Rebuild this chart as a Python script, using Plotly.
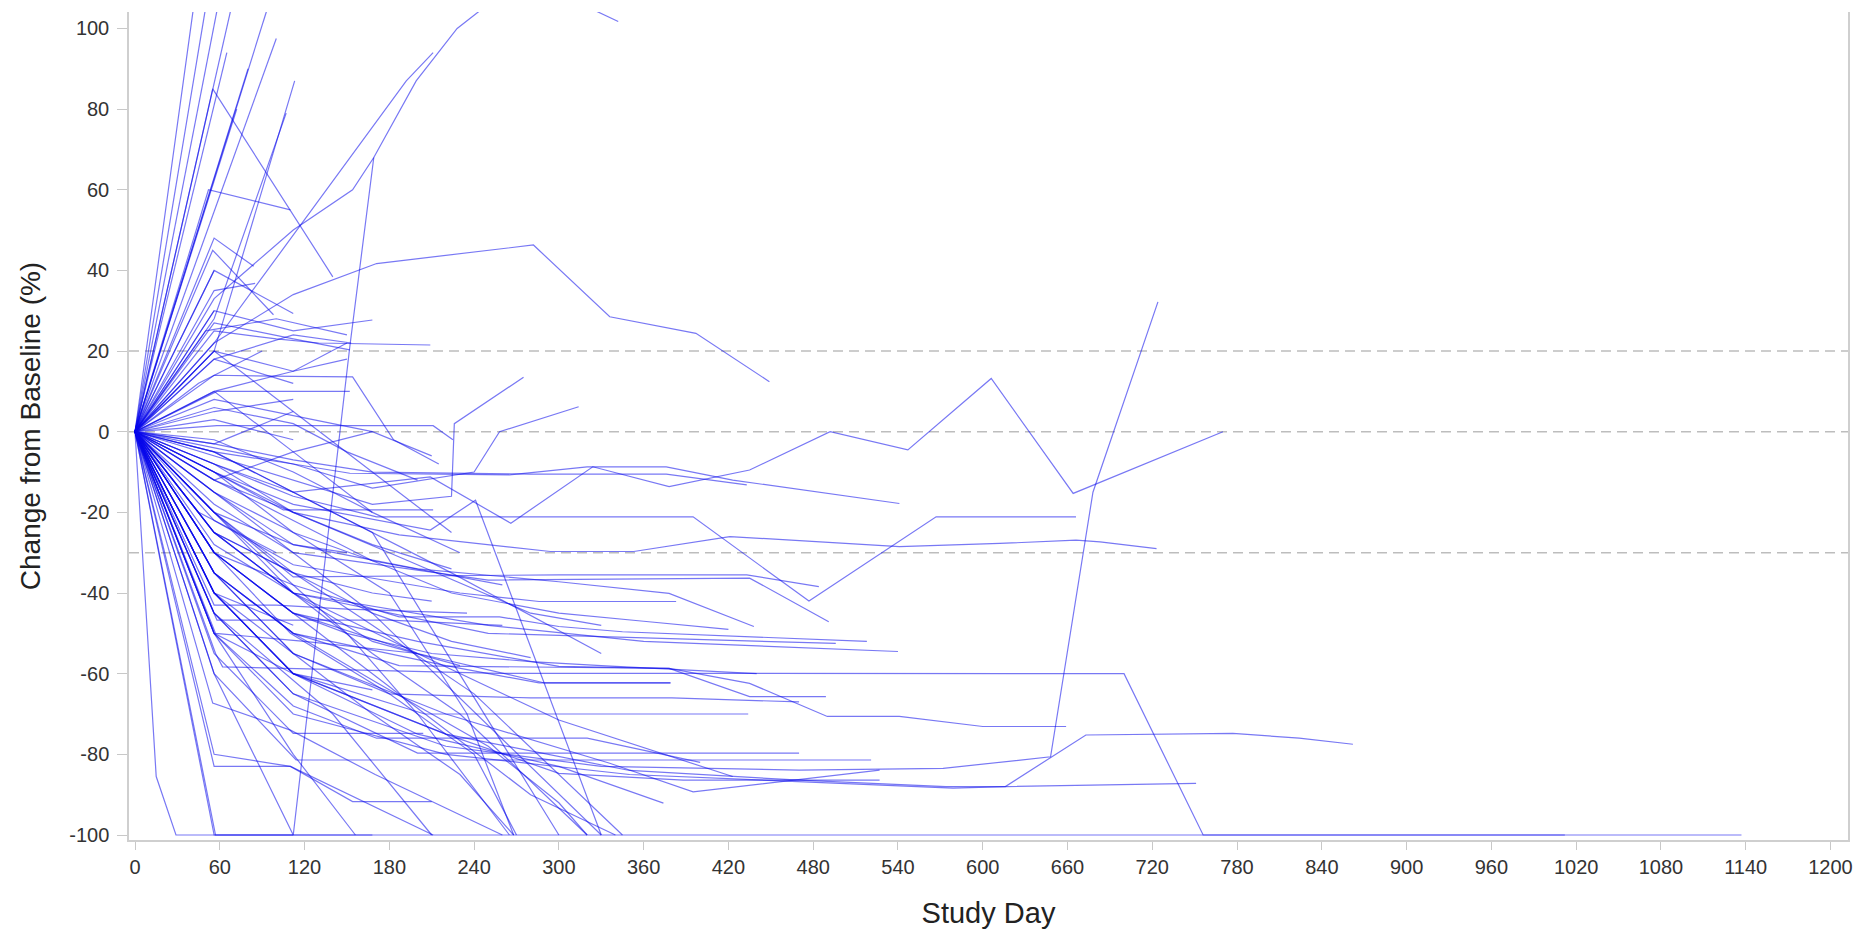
import plotly.graph_objects as go

# ---- data: one list per subject (study day, % change from baseline) ----
subject_days = [
    [0, 50, 280, 342],
    [0, 58],
    [0, 60],
    [0, 70],
    [0, 100],
    [0, 100],
    [0, 80],
    [0, 65],
    [0, 56, 113],
    [0, 56, 107],
    [0, 55, 140],
    [0, 56, 112, 171, 282, 336, 397, 449],
    [0, 56, 112, 154, 169, 199, 228, 250],
    [0, 56, 192, 211],
    [0, 56, 112, 152, 169],
    [0, 72],
    [0, 52, 110],
    [0, 56, 84],
    [0, 56, 85],
    [0, 55, 98],
    [0, 56, 112],
    [0, 56, 112, 168],
    [0, 56, 100, 130, 209],
    [0, 56, 112, 152],
    [0, 56, 112, 153],
    [0, 58, 152],
    [0, 56, 112, 154, 183, 215],
    [0, 58, 211, 225],
    [0, 56, 112, 168, 224, 226, 275],
    [0, 56, 112, 168, 240, 258, 314],
    [0, 56, 112, 152, 265, 320, 376, 423, 541],
    [0, 56, 112, 168, 280, 376, 433],
    [0, 56, 112, 209, 266, 324, 378, 435, 492, 547, 606, 664, 770],
    [0, 56, 105, 211],
    [0, 56, 112, 171, 395, 477, 567, 666],
    [0, 56, 112, 187, 294, 353, 421, 541, 612, 666, 683, 723],
    [0, 56, 112, 209, 241, 330],
    [0, 56, 112, 300, 433, 484],
    [0, 56, 112, 250, 435, 491],
    [0, 56, 112, 200, 300, 378, 438],
    [0, 56, 112, 230, 286, 383],
    [0, 56, 112, 187, 258, 300, 345, 518],
    [0, 56, 112, 250, 496],
    [0, 56, 112, 250, 360, 470, 540],
    [0, 57, 62, 258, 700, 756, 1012],
    [0, 56, 112, 200, 290, 379],
    [0, 56, 112, 220, 286, 379],
    [0, 56, 112, 200, 300, 378, 435, 489],
    [0, 56, 112, 187, 378, 435, 490, 541, 600, 659],
    [0, 56, 112, 205, 434],
    [0, 56, 112, 200, 300, 423],
    [0, 56, 112, 200, 470],
    [0, 56, 114, 521],
    [0, 56, 110, 154, 210],
    [0, 56, 110, 211],
    [0, 56, 112, 200, 300, 374],
    [0, 56, 112, 220, 336, 395, 527],
    [0, 56, 112, 220, 300, 388, 527],
    [0, 56, 112, 220, 330, 470, 572, 648, 678, 724],
    [0, 56, 112, 220, 350, 470, 574, 616, 673, 777, 824, 862],
    [0, 56, 112, 220, 350, 470, 579, 616, 751],
    [0, 15, 29, 1137],
    [0, 56, 112],
    [0, 57, 168],
    [0, 55, 110, 170, 260],
    [0, 56, 112, 204],
    [0, 56, 112, 171, 320, 400],
    [0, 56, 112, 168, 224, 280, 340],
    [0, 56, 112, 168, 230, 320],
    [0, 56, 112, 170, 250, 300, 320],
    [0, 56, 112, 168, 240, 300, 345],
    [0, 56, 112, 168, 230, 268],
    [0, 56, 140, 210],
    [0, 56, 112, 156],
    [0, 56, 112, 168, 330],
    [0, 56, 168, 300],
    [0, 56, 112, 150, 200, 265],
    [0, 56, 110, 180, 240, 270],
    [0, 56, 112, 180, 235, 268],
    [0, 56, 112, 150],
    [0, 56, 112, 168, 210],
    [0, 56, 112, 168, 260],
    [0, 56, 112, 180, 280, 330],
    [0, 56, 100, 150, 235],
    [0, 58, 180, 260],
    [0, 57, 120, 200],
    [0, 56, 112, 168, 224, 330],
    [0, 56, 112, 168],
    [0, 56, 112, 168, 224],
    [0, 56, 112, 168, 230],
    [0, 56, 112],
    [0, 56, 112, 168],
    [0, 45, 100],
    [0, 56, 112, 168, 224, 280],
    [0, 56, 112, 168, 224, 300, 360, 420],
    [0, 56, 112, 150, 210, 280, 330, 440],
    [0, 56, 112, 180, 280, 380, 470],
    [0, 56, 112],
    [0, 56, 112, 150],
    [0, 56, 112],
    [0, 50, 100, 150],
    [0, 56, 112],
    [0, 56, 112, 168],
    [0, 56, 112, 150, 200],
    [0, 45, 90],
    [0, 56],
    [0, 56],
    [0, 56, 112, 150],
    [0, 56, 112],
    [0, 56, 112, 168, 210],
    [0, 56, 112, 168, 224],
    [0, 56, 112, 168, 230],
]

subject_change = [
    [0, 127, 112, 101.7],
    [0, 122],
    [0, 108],
    [0, 108],
    [0, 112],
    [0, 97.5],
    [0, 90],
    [0, 94],
    [0, 20, 87],
    [0, 28, 79],
    [0, 85, 38.4],
    [0, 22, 34, 41.7, 46.3, 28.5, 24.4, 12.4],
    [0, 33, 50, 60, 68, 87, 100, 106],
    [0, 22, 87, 94],
    [0, -60, -100, 21, 68],
    [0, 80],
    [0, 60, 55],
    [0, 48, 41],
    [0, 35, 36.8],
    [0, 45, 29],
    [0, 40, 29.3],
    [0, 30, 25, 27.7],
    [0, 25, 23, 22, 21.5],
    [0, 27, 23, 20.3],
    [0, 18, 24, 22],
    [0, 10, 10],
    [0, 14, 13.7, 13.6, -2, -8],
    [0, 1.5, 1.5, -2],
    [0, -6, -12, -18, -16, 2, 13.5],
    [0, -4, -8, -14, -10, 0, 6.2],
    [0, -5, -8, -10.3, -10.7, -8.7, -8.7, -12, -17.8],
    [0, -3, -7, -10, -10.5, -10.5, -13.2],
    [0, -8, -15, -11.2, -22.7, -8.7, -13.6, -9.5, 0, -4.5, 13.2, -15.3, 0],
    [0, -10, -19.4, -19.4],
    [0, -8, -16, -21.1, -21.1, -42, -21.1, -21.1],
    [0, -12, -20, -25.6, -29.7, -29.7, -26, -28.5, -27.7, -26.9, -27.3, -29],
    [0, -10, -18, -24.4, -17, -100],
    [0, -20, -36, -35.5, -35.5, -38.4],
    [0, -18, -30, -36.8, -36.3, -47.1],
    [0, -15, -28, -34, -37.2, -40.1, -48.3],
    [0, -22, -33, -40, -42.1, -42.1],
    [0, -30, -38, -45.9, -45.9, -48.3, -49.6, -52],
    [0, -25, -40, -50, -52.5],
    [0, -28, -40, -48, -52, -53.5, -54.5],
    [0, -55, -58.3, -59.9, -60, -100, -100],
    [0, -30, -45, -55, -62.3, -62.3],
    [0, -35, -50, -58, -62.3, -62.3],
    [0, -30, -45, -52, -58.2, -58.7, -65.7, -65.7],
    [0, -35, -50, -58, -58.7, -62.4, -70.6, -70.6, -73.1, -73.1],
    [0, -40, -60, -70, -70],
    [0, -25, -40, -55, -71.5, -85.5],
    [0, -45, -65, -79.7, -79.7],
    [0, -60, -81.4, -81.4],
    [0, -83, -83, -91.7, -91.7],
    [0, -80, -83, -100],
    [0, -40, -60, -75, -83, -92.1],
    [0, -35, -55, -70, -82.2, -89.3, -83.9],
    [0, -40, -60, -75, -84.7, -86.4, -86.4],
    [0, -45, -65, -78, -83, -83.9, -83.5, -80.6, -15, 32.2],
    [0, -40, -60, -75, -84, -86.4, -88, -88, -75.2, -74.8, -76, -77.5],
    [0, -50, -70, -80, -85, -86.8, -88.4, -88, -87.2],
    [0, -85.5, -100, -100],
    [0, -100, -100],
    [0, -100, -100],
    [0, -67.3, -74, -85, -100],
    [0, -55, -74.8, -74.8],
    [0, -50, -68, -76, -76, -82],
    [0, -30, -45, -60, -75, -90, -100],
    [0, -20, -40, -55, -70, -100],
    [0, -35, -50, -62, -78, -92, -100],
    [0, -25, -35, -48, -65, -85, -100],
    [0, -40, -55, -70, -85, -100],
    [0, -45, -70, -100],
    [0, -50, -80, -100],
    [0, -15, -30, -45, -100],
    [0, -5, -25, -100],
    [0, -20, -38, -50, -70, -100],
    [0, -30, -50, -65, -80, -100],
    [0, -10, -25, -40, -70, -100],
    [0, -20, -28, -30],
    [0, -25, -35, -40, -42],
    [0, -15, -25, -32, -38],
    [0, -10, -20, -30, -45, -48],
    [0, -43, -43, -44, -45],
    [0, -46.7, -46.7, -48],
    [0, -50, -52, -55],
    [0, -5, -15, -25, -35, -55],
    [0, -2, -10, -20],
    [0, -8, -20, -28, -34],
    [0, -25, -40, -52, -58],
    [0, -40, -48],
    [0, -50, -60, -64],
    [0, -20, -30],
    [0, -20, -35, -45, -52, -56],
    [0, -12, -22, -32, -40, -45, -47, -49],
    [0, -30, -45, -50, -55, -57, -58, -60],
    [0, -35, -55, -65, -66, -66, -67],
    [0, 5, 8],
    [0, 10, 15, 18],
    [0, 18, 12],
    [0, 25, 28, 24],
    [0, 3, -2],
    [0, 8, 4, 0],
    [0, 6, 2, -5, -12],
    [0, 12, 20],
    [0, 30],
    [0, 40],
    [0, 20, 15, 22],
    [0, -3, 5],
    [0, -12, -5, 0, -6],
    [0, 20, 5, -10, -25],
    [0, 10, -5, -20, -30],
]

reference_levels = [20, 0, -30]
x_tick_values = list(range(0, 1201, 60))
y_tick_values = list(range(-100, 101, 20))
y_tick_labels = [str(v) for v in y_tick_values]

LINE_COLOR = "rgba(10,10,235,0.55)"
FONT = "Liberation Sans, Arial, sans-serif"

fig = go.Figure()

for days, chg in zip(subject_days, subject_change):
    fig.add_trace(go.Scatter(
        x=days, y=chg, mode="lines",
        line=dict(color=LINE_COLOR, width=1.2),
        showlegend=False, hoverinfo="skip",
    ))

for lvl in reference_levels:
    fig.add_hline(y=lvl, line=dict(color="#bdbdbd", width=1.5, dash="10px,6px"),
                  layer="below")

fig.update_layout(
    width=1859, height=934,
    margin=dict(l=129, r=11, t=12, b=94, autoexpand=False),
    paper_bgcolor="white", plot_bgcolor="white",
    font=dict(family=FONT, color="#333333"),
    showlegend=False,
)

fig.update_xaxes(
    automargin=False,
    range=[-4.25, 1212.4],
    tickmode="array", tickvals=x_tick_values,
    ticks="outside", ticklen=8, tickcolor="#c8c8c8", tickwidth=1,
    showline=True, linecolor="#cfcfcf", linewidth=1.5, mirror=False,
    showgrid=False, zeroline=False,
    tickfont=dict(size=20, family=FONT, color="#333333"),
    title=dict(text="Study Day", font=dict(size=29, family=FONT, color="#222222"), standoff=26),
)

fig.update_yaxes(
    automargin=False,
    range=[-101.24, 104.07],
    tickmode="array", tickvals=y_tick_values, ticktext=y_tick_labels,
    ticks="outside", ticklen=10, tickcolor="#c8c8c8", tickwidth=1,
    showline=True, linecolor="#cfcfcf", linewidth=1.5, mirror=True,
    showgrid=False, zeroline=False,
    tickfont=dict(size=20, family=FONT, color="#333333"),
    ticklabelstandoff=4,
    title=dict(text="Change from Baseline (%)", font=dict(size=28, family=FONT, color="#222222"), standoff=20),
)

fig.write_html(
    "out.html",
    config={"displayModeBar": False},
    post_script="document.body.style.margin='0px';document.body.style.overflow='hidden';",
)
